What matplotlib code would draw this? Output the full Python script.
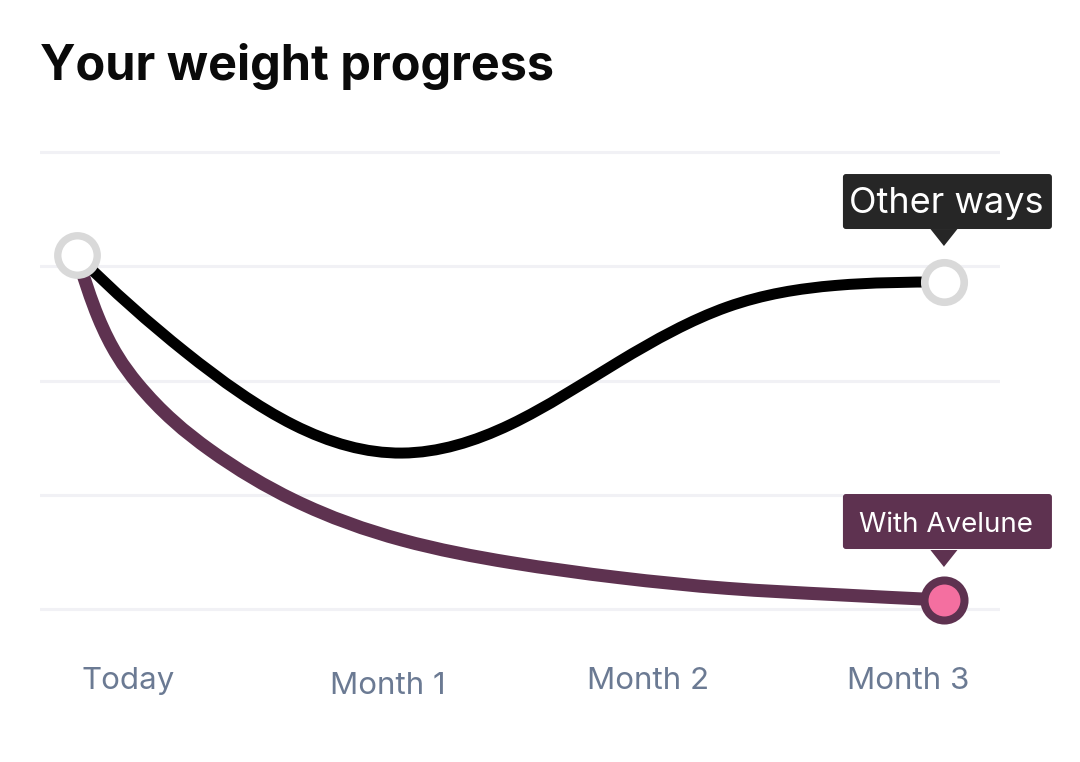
import matplotlib
matplotlib.use("Agg")
import matplotlib.pyplot as plt
import matplotlib.transforms as mtransforms
from matplotlib.patches import FancyBboxPatch, PathPatch
from matplotlib.path import Path
import numpy as np

# data (months since today, relative weight units)
other_months = [0.0, 0.375, 0.75, 1.125, 1.5, 1.875, 2.25, 2.625, 3.0]
other_weight = [3.098, 2.249, 1.611, 1.365, 1.615, 2.165, 2.643, 2.832, 2.862]

avelune_months = [0.0, 0.073, 0.208, 0.46, 0.75, 1.125, 1.5, 1.875, 2.25, 2.625, 3.0]
avelune_weight = [3.098, 2.556, 1.978, 1.392, 0.954, 0.604, 0.407, 0.275, 0.181, 0.126, 0.079]

tick_labels = ["Today", "Month 1", "Month 2", "Month 3"]
title = "Your weight progress"
label_other = "Other ways"
label_avelune = "With Avelune"

BLACK = "#000000"
PURPLE = "#5e3250"
PINK = "#f46fa0"
RING = "#d9d9d9"
TICK = "#6b7a93"
GRID = "#f1f1f5"

fig = plt.figure(figsize=(10.8, 7.62), dpi=100)
ax = fig.add_axes([40 / 1080, 1 - 640 / 762, 960 / 1080, 540 / 762])
ax.set_xlim(-0.128, 3.194)
ax.set_ylim(-0.271, 4.455)

ax.set_yticks(range(5))
ax.yaxis.grid(True, color=GRID, linewidth=2.2)
ax.set_axisbelow(True)
ax.tick_params(length=0, labelleft=False, labelbottom=False)
ax.set_xticks([])
for s in ax.spines.values():
    s.set_visible(False)


def smooth_line(xs, ys, color, lw, z):
    # clamped cubic spline through the points, drawn as bezier segments
    x = np.asarray(xs, float)
    y = np.asarray(ys, float)
    n = len(x)
    h = np.diff(x)
    d = np.diff(y) / h
    m0 = ((2 * h[0] + h[1]) * d[0] - h[0] * d[1]) / (h[0] + h[1])
    mn = ((2 * h[-1] + h[-2]) * d[-1] - h[-1] * d[-2]) / (h[-1] + h[-2])
    if np.sign(m0) != np.sign(d[0]):
        m0 = 0
    if np.sign(mn) != np.sign(d[-1]):
        mn = 0
    A = np.zeros((n, n))
    b = np.zeros(n)
    A[0, 0] = 1
    b[0] = m0
    A[-1, -1] = 1
    b[-1] = mn
    for i in range(1, n - 1):
        A[i, i - 1] = h[i]
        A[i, i] = 2 * (h[i - 1] + h[i])
        A[i, i + 1] = h[i - 1]
        b[i] = 3 * (h[i] * d[i - 1] + h[i - 1] * d[i])
    m = np.linalg.solve(A, b)
    verts = [(x[0], y[0])]
    codes = [Path.MOVETO]
    for i in range(n - 1):
        t = h[i] / 3
        verts += [(x[i] + t, y[i] + m[i] * t), (x[i + 1] - t, y[i + 1] - m[i + 1] * t),
                  (x[i + 1], y[i + 1])]
        codes += [Path.CURVE4] * 3
    patch = PathPatch(Path(verts, codes), fill=False, edgecolor=color, lw=lw,
                      capstyle="round", joinstyle="round", zorder=z)
    ax.add_patch(patch)


smooth_line(other_months, other_weight, BLACK, 7.9, 3)
smooth_line(avelune_months, avelune_weight, PURPLE, 9.4, 4)

# end markers
ax.plot(other_months[0], other_weight[0], "o", ms=28.4, mfc="white", mec=RING, mew=5.3,
        zorder=6, clip_on=False)
ax.plot(other_months[-1], other_weight[-1], "o", ms=28.4, mfc="white", mec=RING, mew=5.5,
        zorder=6, clip_on=False)
ax.plot(avelune_months[-1], avelune_weight[-1], "o", ms=28.8, mfc=PINK, mec=PURPLE, mew=5.8,
        zorder=6, clip_on=False)

# x labels, in pixels below the axes
label_x = 0.176 + 0.9 * np.arange(len(tick_labels))
label_dy = [-41, -46, -41, -41]
for x, lab, dy in zip(label_x, tick_labels, label_dy):
    ax.annotate(lab, (x, 0), xycoords=("data", "axes fraction"),
                xytext=(0, dy * 0.72), textcoords="offset points",
                ha="center", va="center", fontsize=22.5, color=TICK,
                family="Inter", annotation_clip=False)


def callout(x, y, text, color, fsize, box_dy, tri_dy, base_dy):
    # box and pointer drawn in pixels relative to the data point
    tr = mtransforms.ScaledTranslation(x, y, ax.transData)
    w, h = 209, 55
    box = FancyBboxPatch((3.5 - w / 2, box_dy - h / 2), w, h,
                         boxstyle="round,pad=0,rounding_size=3",
                         transform=tr, facecolor=color, edgecolor="none",
                         zorder=7, clip_on=False)
    fig.add_artist(box)
    tri = plt.Polygon([(-13.5, tri_dy + 8.5), (13.5, tri_dy + 8.5), (0, tri_dy - 8.5)],
                      closed=True, transform=tr, facecolor=color, edgecolor="none",
                      zorder=7, clip_on=False)
    fig.add_artist(tri)
    fig.text(2, base_dy, text, transform=tr, ha="center", va="baseline",
             color="white", fontsize=fsize, family="Inter", zorder=8)


callout(other_months[-1], other_weight[-1], label_other, "#262626", 26, 80.5, 44.5, 69)
callout(avelune_months[-1], avelune_weight[-1], label_avelune, PURPLE, 20, 78.5, 41.5, 68)

fig.text(40 / 1080, 1 - 66 / 762, title, ha="left", va="center",
         fontsize=35, fontweight="bold", family="Inter", color="#0a0a0a")

fig.savefig("out.png", dpi=100, facecolor="white")
